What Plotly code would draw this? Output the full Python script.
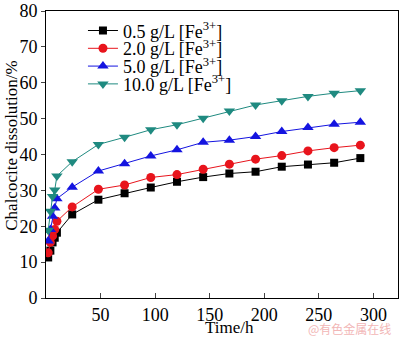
import plotly.graph_objects as go

time_h = [2, 4, 6, 8, 10, 24, 48, 72, 96, 120, 144, 168, 192, 216, 240, 264, 288]
fe_05 = [11.3, 13.2, 15.5, 16.8, 18.2, 23.3, 27.4, 29.2, 30.8, 32.4, 33.7, 34.7, 35.2, 36.6, 37.2, 37.7, 39.0]
fe_20 = [12.6, 15.5, 17.3, 19.1, 21.4, 25.4, 30.3, 31.5, 33.6, 34.4, 35.9, 37.3, 38.7, 39.7, 41.0, 41.9, 42.6]
fe_50 = [15.9, 19.1, 22.8, 25.1, 27.7, 30.9, 35.4, 37.4, 39.6, 41.3, 43.4, 44.0, 45.0, 46.4, 47.5, 48.4, 49.0]
fe_100 = [18.9, 24.2, 28.3, 30.1, 34.0, 38.0, 42.8, 44.8, 46.9, 48.3, 50.1, 52.1, 53.8, 55.0, 56.2, 57.1, 57.8]

series_names = ["0.5 g/L [Fe<sup>3+</sup>]", "2.0 g/L [Fe<sup>3+</sup>]",
                "5.0 g/L [Fe<sup>3+</sup>]", "10.0 g/L [Fe<sup>3+</sup>]"]
x_ticks = [50, 100, 150, 200, 250, 300]
y_ticks = [0, 10, 20, 30, 40, 50, 60, 70, 80]

colors = ["#000000", "#e8141c", "#1414e0", "#1f8a80"]
symbols = ["square", "circle", "triangle-up", "triangle-down"]
sizes = [8, 9, 10, 10]
legend_ids = ["legend", "legend2", "legend3", "legend4"]
legend_y = [0.931, 0.869, 0.807, 0.745]

font = "Liberation Serif, Times New Roman, serif"

fig = go.Figure()
for ys, name, c, s, sz, lg in zip([fe_05, fe_20, fe_50, fe_100], series_names,
                                  colors, symbols, sizes, legend_ids):
    fig.add_trace(go.Scatter(
        x=time_h, y=ys, name=name, mode="lines+markers",
        line=dict(color=c, width=1),
        marker=dict(color=c, symbol=s, size=sz),
        legend=lg,
    ))

legend_layout = {}
for lg, ly in zip(legend_ids, legend_y):
    legend_layout[lg] = dict(x=0.105, y=ly, xanchor="left", yanchor="middle",
                             bgcolor="rgba(0,0,0,0)",
                             font=dict(size=18, family=font, color="black"),
                             itemwidth=30)

fig.update_layout(
    width=400, height=339,
    margin=dict(l=46, r=1, t=7, b=41),
    paper_bgcolor="white", plot_bgcolor="white",
    font=dict(family=font, size=18, color="black"),
    showlegend=True,
    xaxis=dict(range=[0, 322.5], tickvals=x_ticks, ticks="inside", ticklen=5,
               showline=True, linecolor="black", linewidth=1, mirror=True,
               showgrid=False, zeroline=False, ticklabeloverflow="allow",
               tickfont=dict(size=18)),
    yaxis=dict(range=[0, 80], tickvals=y_ticks, ticks="outside", ticklen=4,
               showline=True, linecolor="black", linewidth=1, mirror=True,
               showgrid=False, zeroline=False, ticklabeloverflow="allow",
               tickfont=dict(size=18)),
    annotations=[
        dict(text="Chalcocite dissolution/%", xref="paper", yref="paper",
             x=-0.097, y=0.53, xanchor="center", yanchor="middle",
             textangle=-90, showarrow=False,
             font=dict(size=17, family=font, color="black")),
        dict(text="Time/h", xref="paper", yref="paper", x=0.52, y=-0.104,
             xanchor="center", yanchor="middle", showarrow=False,
             font=dict(size=17, family=font, color="black")),
        dict(text="@有色金属在线", xref="paper", yref="paper",
             x=0.985, y=-0.108, xanchor="right", yanchor="middle",
             showarrow=False,
             font=dict(size=12, color="#f2b6b6", family="Noto Sans CJK SC")),
    ],
    **legend_layout,
)

fig.write_html("out.html")
